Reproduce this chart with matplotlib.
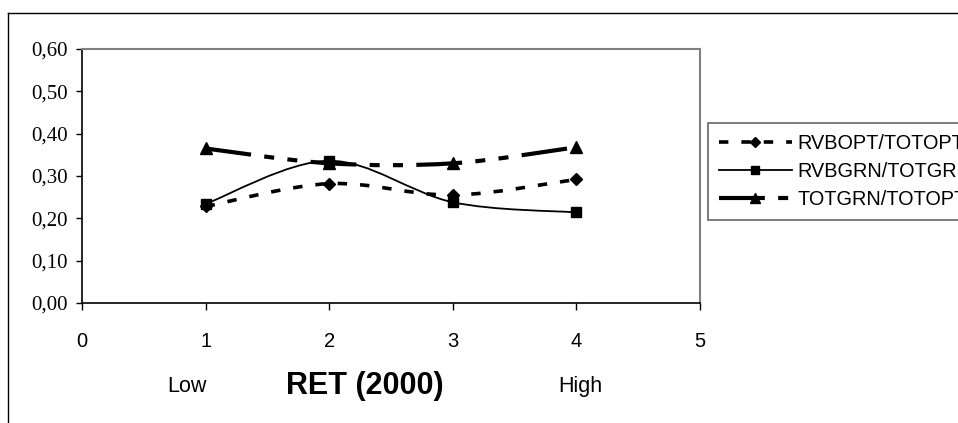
import matplotlib
matplotlib.use('Agg')
import matplotlib.pyplot as plt
import matplotlib.patches as patches
from matplotlib.path import Path
from matplotlib.lines import Line2D
import numpy as np

# data
ret_class = [1, 2, 3, 4]
rvbopt_totopt = [0.228, 0.282, 0.255, 0.292]
rvbgrn_totgrn = [0.234, 0.336, 0.238, 0.214]
totgrn_totopt = [0.365, 0.330, 0.330, 0.368]
series_names = ['RVBOPT/TOTOPT', 'RVBGRN/TOTGRN', 'TOTGRN/TOTOPT']
y_ticks = [0.0, 0.1, 0.2, 0.3, 0.4, 0.5, 0.6]
y_tick_labels = ['0,00', '0,10', '0,20', '0,30', '0,40', '0,50', '0,60']
x_ticks = [0, 1, 2, 3, 4, 5]

fig = plt.figure(figsize=(9.58, 4.23), dpi=100)
fig.patch.set_facecolor('white')

# outer chart frame (runs off the right and bottom of the picture)
fig.add_artist(Line2D([8 / 958, 8 / 958], [0, 1 - 13 / 423], transform=fig.transFigure,
                      color='black', lw=1))
fig.add_artist(Line2D([8 / 958, 1], [1 - 13 / 423, 1 - 13 / 423], transform=fig.transFigure,
                      color='black', lw=1))

ax = fig.add_axes([82 / 958, 120 / 423, 618 / 958, 254 / 423])
ax.set_xlim(0, 5)
ax.set_ylim(0, 0.6)


def smooth_path(xs, ys):
    # Excel-style smoothed line: cubic Bezier segments through the points
    pts = np.column_stack([xs, ys]).astype(float)
    verts = [pts[0]]
    codes = [Path.MOVETO]
    n = len(pts)
    for i in range(n - 1):
        p0 = pts[max(i - 1, 0)]
        p1 = pts[i]
        p2 = pts[i + 1]
        p3 = pts[min(i + 2, n - 1)]
        c1 = p1 + (p2 - p0) / 6.0
        c2 = p2 - (p3 - p1) / 6.0
        verts += [c1, c2, p2]
        codes += [Path.CURVE4] * 3
    return Path(verts, codes)


styles = [
    dict(lw=2.6, ls=(0, (2.6, 3.6)), marker='D', ms=6.5),
    dict(lw=1.3, ls='-', marker='s', ms=7),
    dict(lw=3.0, ls=(0, (11, 3.2, 2.4, 3.2, 2.4, 3.2)), marker='^', ms=8),
]
data = [rvbopt_totopt, rvbgrn_totgrn, totgrn_totopt]

handles = []
for vals, st, name in zip(data, styles, series_names):
    pp = patches.PathPatch(smooth_path(ret_class, vals), fill=False, ec='black',
                           lw=st['lw'], ls=st['ls'], capstyle='butt', zorder=2)
    ax.add_patch(pp)
    ax.plot(ret_class, vals, linestyle='none', marker=st['marker'], ms=st['ms'],
            color='black', zorder=3)
    handles.append(Line2D([], [], color='black', lw=st['lw'], ls=st['ls'],
                          marker=st['marker'], ms=st['ms'] - 1, label=name))

# axes styling
for s in ['top', 'right']:
    ax.spines[s].set_color('#808080')
    ax.spines[s].set_linewidth(1.5)
for s in ['left', 'bottom']:
    ax.spines[s].set_color('black')
    ax.spines[s].set_linewidth(1.2)

ax.set_yticks(y_ticks)
ax.set_yticklabels(y_tick_labels, fontfamily='Liberation Serif', fontsize=15)
ax.set_xticks(x_ticks)
ax.set_xticklabels([str(t) for t in x_ticks], fontfamily='Liberation Sans', fontsize=14.5)
ax.tick_params(axis='y', direction='out', length=4, width=1, pad=6)
ax.tick_params(axis='x', direction='out', length=5, width=1, pad=16)

ax.text(0.85, -0.197, 'Low', ha='center', va='center', fontfamily='Liberation Sans',
        fontsize=15.5)
ax.text(4.03, -0.197, 'High', ha='center', va='center', fontfamily='Liberation Sans',
        fontsize=15.5)
ax.text(2.29, -0.197, 'RET (2000)', ha='center', va='center', fontfamily='Liberation Sans',
        fontsize=22, fontweight='bold')

leg = fig.legend(handles=handles, loc='upper left',
                 bbox_to_anchor=(708 / 958, 1 - 123 / 423),
                 prop={'family': 'Liberation Sans', 'size': 14.3},
                 frameon=True, fancybox=False, handlelength=3.65, handletextpad=0.3,
                 borderpad=0.56, labelspacing=0.45, borderaxespad=0)
leg.get_frame().set_edgecolor('#404040')
leg.get_frame().set_linewidth(1.2)

fig.savefig('out.png', dpi=100, facecolor='white')
